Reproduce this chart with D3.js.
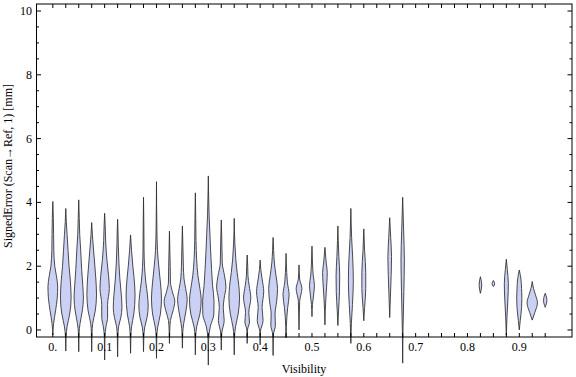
<!DOCTYPE html>
<html>
<head>
<meta charset="utf-8">
<script src="https://cdn.jsdelivr.net/npm/d3@7"></script>
<style>
  body { margin: 0; background: #fff; }
  text { font-family: "Liberation Serif", "DejaVu Serif", serif; fill: #000; }
</style>
</head>
<body>
<svg width="576" height="377"></svg>
<script>
// visibility bin of each violin
const visibility = [0, 0.025, 0.05, 0.075, 0.1, 0.125, 0.15, 0.175, 0.2, 0.225,
    0.25, 0.275, 0.3, 0.325, 0.35, 0.375, 0.4, 0.425, 0.45, 0.475,
    0.5, 0.525, 0.55, 0.575, 0.6, 0.65, 0.675, 0.825, 0.85, 0.875,
    0.9, 0.925, 0.95]

// density profile of each violin: [signed error mm, relative density]
const profiles = [
    [[-0.15,0],[0.2,0.12],[0.6,0.42],[1.0,0.68],[1.35,0.75],[1.7,0.55],[2.0,0.3],[2.5,0.15],[3.0,0.12],[3.5,0.08],[4.03,0]],
    [[-0.66,0],[-0.2,0.05],[0.1,0.2],[0.5,0.6],[1.0,0.82],[1.5,0.72],[2.0,0.5],[2.5,0.35],[3.0,0.2],[3.4,0.08],[3.81,0]],
    [[-0.68,0],[-0.1,0.05],[0.2,0.2],[0.6,0.55],[1.0,0.72],[1.4,0.62],[1.9,0.45],[2.5,0.3],[3.0,0.15],[3.5,0.08],[4.08,0]],
    [[-0.68,0],[-0.1,0.05],[0.2,0.15],[0.6,0.55],[1.1,0.74],[1.6,0.64],[2.1,0.45],[2.6,0.25],[3.0,0.1],[3.37,0]],
    [[-0.94,0],[-0.2,0.05],[0.1,0.2],[0.4,0.45],[0.8,0.45],[1.3,0.72],[1.7,0.6],[2.2,0.35],[2.8,0.15],[3.3,0.08],[3.66,0]],
    [[-0.84,0],[-0.2,0.05],[0.1,0.15],[0.4,0.5],[0.7,0.67],[1.1,0.57],[1.6,0.35],[2.1,0.2],[2.7,0.1],[3.1,0.06],[3.47,0]],
    [[-0.73,0],[-0.2,0.05],[0.1,0.15],[0.5,0.5],[1.1,0.69],[1.6,0.55],[2.0,0.35],[2.5,0.15],[2.98,0]],
    [[-0.68,0],[-0.2,0.05],[0.1,0.2],[0.4,0.55],[0.75,0.72],[1.1,0.6],[1.5,0.35],[2.0,0.15],[2.5,0.08],[3.3,0.05],[4.16,0]],
    [[-0.89,0],[-0.2,0.05],[0.1,0.2],[0.5,0.6],[1.0,0.77],[1.5,0.6],[2.0,0.35],[2.5,0.15],[3.2,0.06],[4.65,0]],
    [[-0.42,0],[0.0,0.05],[0.3,0.15],[0.6,0.55],[0.9,0.82],[1.2,0.45],[1.5,0.15],[2.0,0.12],[2.5,0.06],[3.1,0]],
    [[-0.57,0],[-0.1,0.05],[0.2,0.2],[0.6,0.55],[0.95,0.74],[1.3,0.5],[1.6,0.25],[2.0,0.15],[2.6,0.08],[3.26,0]],
    [[-0.78,0],[-0.2,0.05],[0.1,0.2],[0.5,0.7],[0.95,0.9],[1.3,0.7],[1.7,0.4],[2.2,0.2],[2.8,0.1],[3.5,0.06],[4.3,0]],
    [[-1.1,0],[-0.3,0.05],[0.1,0.3],[0.5,0.85],[0.9,0.88],[1.4,0.65],[1.9,0.5],[2.5,0.35],[3.0,0.25],[3.6,0.12],[4.2,0.05],[4.83,0]],
    [[-0.63,0],[-0.1,0.08],[0.3,0.45],[0.7,0.3],[1.0,0.45],[1.35,0.72],[1.7,0.5],[2.1,0.15],[2.6,0.1],[3.0,0.06],[3.45,0]],
    [[-0.78,0],[-0.2,0.05],[0.1,0.2],[0.5,0.6],[1.0,0.82],[1.4,0.7],[1.8,0.45],[2.2,0.25],[2.7,0.1],[3.5,0]],
    [[-0.42,0],[0.0,0.05],[0.25,0.35],[0.55,0.25],[1.0,0.56],[1.4,0.3],[1.7,0.12],[2.0,0.08],[2.35,0]],
    [[-0.47,0],[-0.05,0.05],[0.3,0.45],[0.7,0.3],[1.2,0.55],[1.6,0.3],[1.9,0.1],[2.19,0]],
    [[-0.8,0],[-0.15,0.05],[0.15,0.35],[0.5,0.3],[0.9,0.55],[1.3,0.68],[1.7,0.45],[2.1,0.2],[2.5,0.08],[2.9,0]],
    [[-0.25,0],[0.1,0.05],[0.4,0.12],[0.7,0.25],[1.1,0.47],[1.5,0.2],[1.8,0.1],[2.4,0]],
    [[0.0,0],[0.5,0.05],[0.9,0.1],[1.3,0.44],[1.6,0.1],[2.04,0]],
    [[0.42,0],[0.8,0.08],[1.1,0.25],[1.4,0.38],[1.7,0.2],[2.1,0.08],[2.63,0]],
    [[0.16,0],[0.6,0.05],[1.0,0.15],[1.5,0.3],[1.8,0.36],[2.1,0.2],[2.59,0]],
    [[0.14,0],[0.6,0.1],[1.2,0.25],[1.7,0.28],[2.3,0.15],[2.8,0.06],[3.26,0]],
    [[-0.42,0],[0.2,0.08],[0.8,0.25],[1.5,0.38],[2.2,0.3],[2.9,0.12],[3.81,0]],
    [[0.29,0],[0.7,0.12],[1.3,0.3],[1.8,0.3],[2.5,0.12],[3.17,0]],
    [[0.39,0],[1.0,0.1],[1.7,0.22],[2.3,0.28],[2.9,0.15],[3.52,0]],
    [[-1.04,0],[0.0,0.05],[1.2,0.18],[2.2,0.26],[3.1,0.15],[4.16,0]],
    [[1.15,0],[1.41,0.2],[1.67,0]],
    [[1.36,0],[1.45,0.2],[1.55,0]],
    [[-0.16,0],[0.4,0.1],[1.0,0.25],[1.45,0.31],[1.9,0.15],[2.22,0]],
    [[0.0,0],[0.3,0.15],[0.7,0.35],[1.0,0.4],[1.3,0.35],[1.6,0.25],[1.88,0]],
    [[0.31,0],[0.55,0.4],[0.85,0.8],[1.1,0.5],[1.3,0.2],[1.52,0]],
    [[0.71,0],[0.93,0.26],[1.15,0]]
]

const xTickValues = d3.range(0, 39).map(i => i * 0.025)
const xLabelValues = [0, 0.1, 0.2, 0.3, 0.4, 0.5, 0.6, 0.7, 0.8, 0.9]
const xLabels = ["0.", "0.1", "0.2", "0.3", "0.4", "0.5", "0.6", "0.7", "0.8", "0.9"]
const yMinorTicks = d3.range(0, 21).map(i => i * 0.5)
const yLabelValues = [0, 2, 4, 6, 8, 10]

const svg = d3.select("svg")
const plotLeft = 36.5, plotRight = 572, plotTop = 4, plotBottom = 337

const x = d3.scaleLinear().domain([-0.0315, 1.0017]).range([plotLeft, plotRight])
const y = d3.scaleLinear().domain([-0.22, 10.22]).range([plotBottom, plotTop])
const w = d3.scaleLinear().domain([0, 1]).range([0, 6.5])

const violin = (d, i) => {
    const cx = x(visibility[i])
    return d3.area()
        .curve(d3.curveMonotoneY)
        .y(p => y(p[0]))
        .x0(p => cx - w(p[1]))
        .x1(p => cx + w(p[1]))(d)
}

svg.append("g")
    .attr("id", "violinsG")
    .selectAll("path.violin")
    .data(profiles)
    .enter()
    .append("path")
    .attr("class", "violin")
    .attr("d", violin)
    .style("fill", "#cbd0f5")
    .style("stroke", "#2e2e2e")
    .style("stroke-width", 1)
    .style("stroke-opacity", 0.85)

// frame
const frame = svg.append("g").attr("id", "frameG")
frame.append("rect")
    .attr("x", plotLeft)
    .attr("y", plotTop)
    .attr("width", plotRight - plotLeft)
    .attr("height", plotBottom - plotTop)
    .style("fill", "none")
    .style("stroke", "#000")
    .style("stroke-width", 1)

// x ticks, bottom and top
frame.selectAll("line.xtick")
    .data(xTickValues)
    .enter()
    .append("line")
    .attr("class", "xtick")
    .attr("x1", d => x(d))
    .attr("x2", d => x(d))
    .attr("y1", plotBottom)
    .attr("y2", plotBottom - 4)
    .style("stroke", "#000")
frame.selectAll("line.xtickTop")
    .data(xTickValues)
    .enter()
    .append("line")
    .attr("class", "xtickTop")
    .attr("x1", d => x(d))
    .attr("x2", d => x(d))
    .attr("y1", plotTop)
    .attr("y2", plotTop + 4)
    .style("stroke", "#000")

// y ticks, left and right
const ylen = d => d % 2 === 0 ? 4.5 : 2.5
frame.selectAll("line.ytick")
    .data(yMinorTicks)
    .enter()
    .append("line")
    .attr("class", "ytick")
    .attr("x1", plotLeft)
    .attr("x2", d => plotLeft + ylen(d))
    .attr("y1", d => y(d))
    .attr("y2", d => y(d))
    .style("stroke", "#000")
frame.selectAll("line.ytickRight")
    .data(yMinorTicks)
    .enter()
    .append("line")
    .attr("class", "ytickRight")
    .attr("x1", plotRight)
    .attr("x2", d => plotRight - ylen(d))
    .attr("y1", d => y(d))
    .attr("y2", d => y(d))
    .style("stroke", "#000")

svg.append("g")
    .attr("id", "xLabelsG")
    .selectAll("text")
    .data(xLabelValues)
    .enter()
    .append("text")
    .text((d, i) => xLabels[i])
    .attr("x", d => x(d))
    .attr("y", 351)
    .style("text-anchor", "middle")
    .style("font-size", "12px")

svg.append("g")
    .attr("id", "yLabelsG")
    .selectAll("text")
    .data(yLabelValues)
    .enter()
    .append("text")
    .text(d => d)
    .attr("x", 32)
    .attr("y", d => y(d) + 4)
    .style("text-anchor", "end")
    .style("font-size", "12px")

svg.append("text")
    .text("Visibility")
    .attr("x", 304)
    .attr("y", 373)
    .style("text-anchor", "middle")
    .style("font-size", "12px")

svg.append("text")
    .text("SignedError (Scan\u2192Ref, 1) [mm]")
    .attr("transform", "translate(12, 166) rotate(-90)")
    .style("text-anchor", "middle")
    .style("font-size", "12px")
</script>
</body>
</html>
